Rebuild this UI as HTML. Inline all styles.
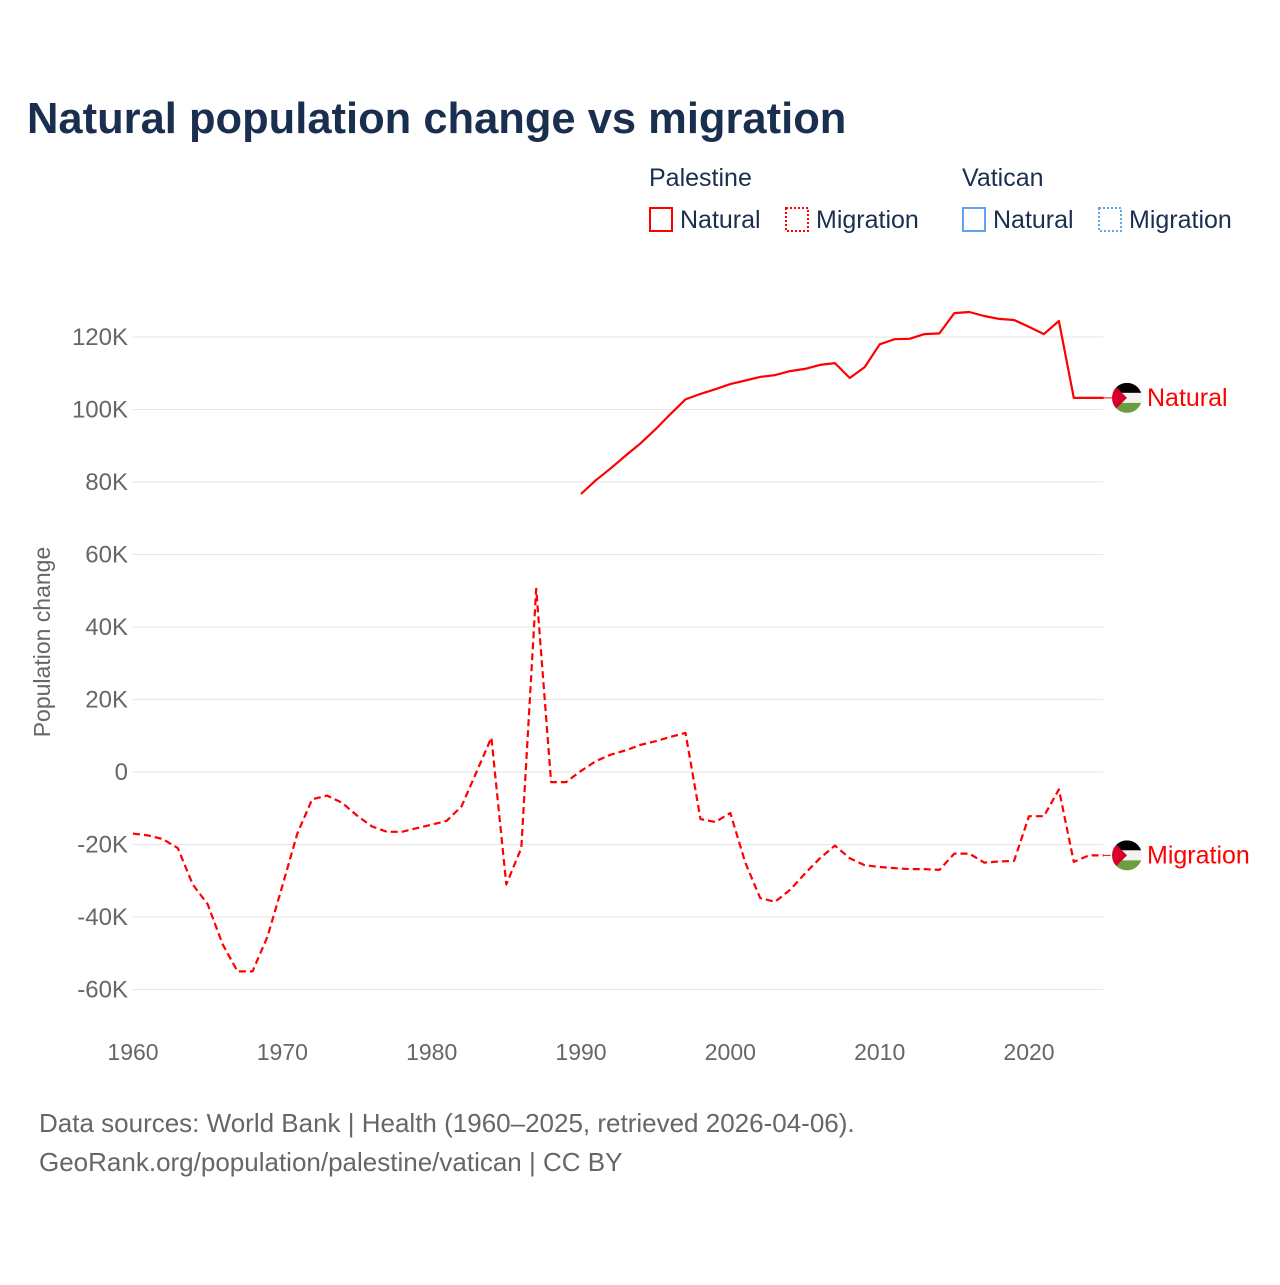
<!DOCTYPE html>
<html><head><meta charset="utf-8"><style>
body{margin:0;background:#fff;font-family:"Liberation Sans",sans-serif;}
</style></head><body>
<svg id="chart" width="1280" height="1280" xmlns="http://www.w3.org/2000/svg" font-family="Liberation Sans, sans-serif">
<defs>
<clipPath id="fc"><circle cx="0" cy="0" r="15"/></clipPath>
</defs>
<rect width="1280" height="1280" fill="#fff"/>
<text x="27" y="133" font-size="43.5" font-weight="bold" fill="#1a2f4f">Natural population change vs migration</text>
<g font-size="25" fill="#1a2f4f">
<text x="649" y="186">Palestine</text>
<text x="962" y="186">Vatican</text>
<g><rect x="650" y="208" width="22" height="23" fill="none" stroke="#f00" stroke-width="2"/><text x="680" y="228">Natural</text></g>
<g><rect x="786" y="208" width="22" height="23" fill="none" stroke="#f00" stroke-width="2" stroke-dasharray="2 2"/><text x="816" y="228">Migration</text></g>
<g><rect x="963" y="208" width="22" height="23" fill="none" stroke="#5fa4ec" stroke-width="2"/><text x="993" y="228">Natural</text></g>
<g><rect x="1099" y="208" width="22" height="23" fill="none" stroke="#5fa4ec" stroke-width="2" stroke-dasharray="2 2"/><text x="1129" y="228">Migration</text></g>
</g>
<g id="grid"></g>
<g id="yticks" font-size="24" fill="#666" text-anchor="end"></g>
<g id="xticks" font-size="23" fill="#666" text-anchor="middle"></g>
<text transform="translate(50,642) rotate(-90)" font-size="23" fill="#666" text-anchor="middle">Population change</text>
<g id="series"></g>
<text x="39" y="1132" font-size="26" fill="#666">Data sources: World Bank | Health (1960–2025, retrieved 2026-04-06).</text>
<text x="39" y="1171" font-size="26" fill="#666">GeoRank.org/population/palestine/vatican | CC BY</text>
</svg>
<script>
const yTicks=[-60,-40,-20,0,20,40,60,80,100,120];
const yTickLabels=["-60K","-40K","-20K","0","20K","40K","60K","80K","100K","120K"];
const xTicks=[1960,1970,1980,1990,2000,2010,2020];
const migYears=[];for(let y=1960;y<=2025;y++)migYears.push(y);
const migration=[-17,-17.5,-18.5,-21,-31,-36.5,-47.5,-55,-55,-45.5,-31.5,-17,-7.5,-6.5,-8.5,-12,-15,-16.5,-16.5,-15.5,-14.5,-13.5,-9.5,0,9.5,-31,-21,50.5,-2.8,-2.8,0.3,3,4.8,6,7.5,8.5,9.7,10.8,-13,-13.8,-11.3,-25,-34.8,-35.8,-32.5,-28,-23.8,-20.3,-23.8,-25.7,-26.2,-26.5,-26.8,-26.8,-27,-22.5,-22.5,-25,-24.7,-24.5,-12.2,-12.2,-4.8,-24.8,-23,-23];
const natYears=[];for(let y=1990;y<=2025;y++)natYears.push(y);
const natural=[76.7,80.5,83.8,87.3,90.7,94.6,98.8,102.8,104.3,105.6,107,108,109,109.5,110.6,111.2,112.3,112.8,108.7,111.7,118,119.4,119.5,120.8,121,126.6,126.9,125.8,125,124.7,122.8,120.8,124.4,103.2,103.2,103.2];

const NS="http://www.w3.org/2000/svg";
const xs=y=>133+(y-1960)*(1029-133)/60;
const ys=v=>772-v*3.625;
function mk(t,a,p){const e=document.createElementNS(NS,t);for(const k in a)e.setAttribute(k,a[k]);p.appendChild(e);return e;}
const grid=document.getElementById('grid'),yt=document.getElementById('yticks'),xt=document.getElementById('xticks'),ser=document.getElementById('series');
yTicks.forEach((v,i)=>{
 const l=mk('line',{x1:133,x2:1103,y1:ys(v),y2:ys(v),stroke:'#e6e6e6','stroke-width':1},grid);
 
 
 const t=mk('text',{x:128,y:ys(v)+8},yt);t.textContent=yTickLabels[i];
 
 
});
xTicks.forEach(v=>{
 const t=mk('text',{x:xs(v),y:1060},xt);t.textContent=v;
 
 
});
function line(years,vals,dash,name){
 const d=years.map((y,i)=>(i?'L':'M')+xs(y).toFixed(1)+','+ys(vals[i]).toFixed(1)).join('');
 const p=mk('path',{d:d,fill:'none',stroke:'#f00','stroke-width':2.2,'stroke-dasharray':dash,'stroke-linejoin':'round'},ser);
 
 
 const lv=vals[vals.length-1],ly=ys(lv),lx=xs(years[years.length-1]);
 const c=mk('line',{x1:lx,x2:1112,y1:ly,y2:ly,stroke:'#f00','stroke-width':1,'stroke-dasharray':dash},ser);
 
 
 const g=mk('g',{transform:'translate(1127,'+ly+')'},ser);
 
 
 const f=mk('g',{'clip-path':'url(#fc)'},g);
 mk('rect',{x:-15,y:-15,width:30,height:10,fill:'#000'},f);
 mk('rect',{x:-15,y:-5,width:30,height:10,fill:'#f2f2f2'},f);
 mk('rect',{x:-15,y:5,width:30,height:10,fill:'#6a9e3f'},f);
 mk('polygon',{points:'-15,-15 0,0 -15,15',fill:'#d8002a'},f);
 const t=mk('text',{x:1147,y:ly+8,'font-size':25,fill:'#f00'},ser);
 t.textContent=name==='natural-line'?'Natural':'Migration';
 
 
}
line(natYears,natural,'none','natural-line');
line(migYears,migration,'7 4','migration-line');
</script>
</body></html>
